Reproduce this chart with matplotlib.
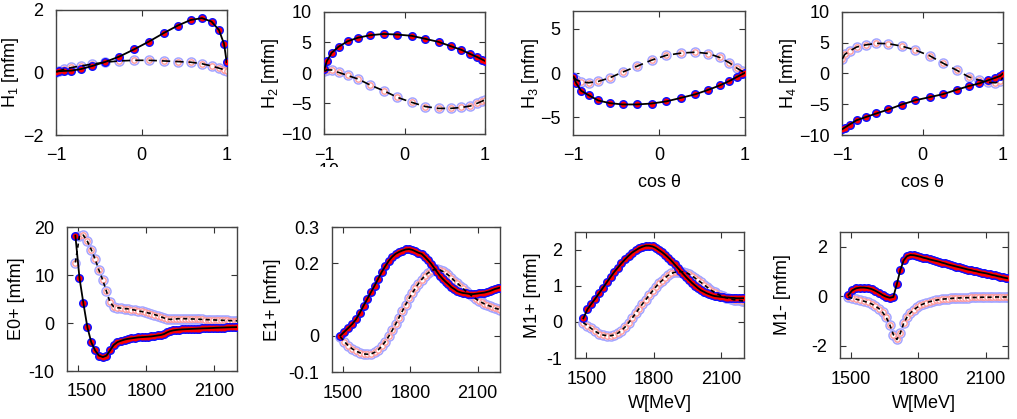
import numpy as np
import matplotlib.pyplot as plt
from matplotlib.transforms import Bbox, TransformedBbox, ScaledTranslation

plt.rcParams['font.family'] = ['Liberation Sans', 'DejaVu Sans']
plt.rcParams['mathtext.default'] = 'regular'
plt.rcParams['font.size'] = 13

# ---- top row: H1..H4 vs cos(theta)
cos_t = [-0.996, -0.966, -0.906, -0.819, -0.707, -0.574, -0.423, -0.259, -0.087,
         0.087, 0.259, 0.423, 0.574, 0.707, 0.819, 0.906, 0.966, 0.996]

h1_a = [0.03, 0.04, 0.05, 0.06, 0.11, 0.21, 0.34, 0.51, 0.74, 0.99, 1.26, 1.5, 1.68, 1.74, 1.63, 1.36, 0.91, 0.33]
h1_b = [0.02, 0.05, 0.1, 0.16, 0.21, 0.27, 0.33, 0.37, 0.39, 0.39, 0.37, 0.35, 0.33, 0.28, 0.21, 0.14, 0.09, 0.04]

h2_a = [0.6, 1.9, 3.3, 4.3, 5.2, 5.8, 6.2, 6.4, 6.3, 6.1, 5.6, 5.1, 4.4, 3.8, 3.1, 2.6, 2.2, 2.0]
h2_b = [0.3, 0.5, 0.5, 0.1, -0.4, -1.0, -2.0, -2.9, -4.0, -4.8, -5.5, -5.8, -5.8, -5.65, -5.4, -4.95, -4.6, -4.4]

h3_a = [-0.4, -1.1, -2.0, -2.5, -3.1, -3.4, -3.55, -3.55, -3.45, -3.2, -2.8, -2.4, -1.9, -1.4, -0.9, -0.45, -0.15, 0.0]
h3_b = [-0.4, -0.75, -1.0, -1.1, -0.95, -0.55, 0.1, 0.75, 1.45, 2.0, 2.25, 2.35, 2.2, 1.75, 1.15, 0.55, 0.2, 0.05]

h4_a = [-9.05, -8.8, -8.3, -7.6, -7.1, -6.5, -5.85, -5.05, -4.35, -3.85, -3.35, -2.65, -2.05, -1.6, -1.1, -0.7, -0.4, -0.05]
h4_b = [2.35, 3.1, 3.65, 4.3, 4.65, 4.9, 4.85, 4.45, 3.8, 2.9, 1.65, 0.55, -0.55, -1.1, -1.45, -1.5, -1.3, -0.65]

# ---- bottom row: multipoles vs W
w = [1487, 1505, 1522, 1540, 1557, 1574, 1591, 1608, 1624, 1640, 1656, 1672, 1688, 1704,
     1719, 1734, 1749, 1764, 1779, 1794, 1808, 1822, 1836, 1850, 1864, 1878, 1892, 1905,
     1918, 1931, 1944, 1957, 1970, 1983, 1996, 2009, 2022, 2034, 2046, 2058, 2070, 2082,
     2094, 2106, 2118, 2130, 2142, 2154, 2166, 2178, 2190, 2200]

e0_a = [18.2, 9.4, 4.2, -0.9, -4.0, -5.7, -6.8, -7.1, -6.8, -5.7, -4.6, -4.0, -3.7, -3.45,
        -3.3, -3.2, -3.1, -3.0, -2.95, -2.9, -2.85, -2.8, -2.7, -2.6, -2.5, -2.3, -1.95, -1.7,
        -1.55, -1.45, -1.38, -1.33, -1.3, -1.27, -1.24, -1.21, -1.18, -1.15, -1.12, -1.1, -1.08, -1.05,
        -1.03, -1.0, -0.98, -0.96, -0.94, -0.92, -0.9, -0.88, -0.87, -0.85]
e0_b = [12.6, 18.1, 18.3, 17.0, 15.3, 13.3, 11.0, 8.9, 6.6, 4.3, 3.4, 3.2, 3.1, 3.0,
        2.95, 2.8, 2.7, 2.5, 2.4, 2.25, 2.1, 1.95, 1.75, 1.55, 1.3, 1.05, 0.85, 0.75,
        0.8, 0.85, 0.9, 0.9, 0.9, 0.88, 0.85, 0.83, 0.8, 0.78, 0.75, 0.72, 0.7, 0.67,
        0.65, 0.62, 0.6, 0.58, 0.55, 0.53, 0.5, 0.48, 0.46, 0.45]

e1_a = [0.0, 0.011, 0.021, 0.032, 0.045, 0.063, 0.083, 0.102, 0.12, 0.138, 0.157, 0.176, 0.192, 0.207,
        0.218, 0.226, 0.231, 0.235, 0.238, 0.239, 0.237, 0.233, 0.229, 0.226, 0.218, 0.209, 0.199, 0.188,
        0.177, 0.166, 0.157, 0.149, 0.142, 0.134, 0.129, 0.123, 0.12, 0.118, 0.117, 0.116, 0.115, 0.115,
        0.116, 0.117, 0.118, 0.119, 0.121, 0.123, 0.126, 0.129, 0.131, 0.133]
e1_b = [-0.003, -0.016, -0.027, -0.036, -0.042, -0.047, -0.05, -0.051, -0.05, -0.046, -0.039, -0.029, -0.016, -0.001,
        0.015, 0.032, 0.05, 0.068, 0.086, 0.103, 0.117, 0.131, 0.144, 0.155, 0.165, 0.173, 0.179, 0.182,
        0.183, 0.181, 0.178, 0.173, 0.167, 0.16, 0.152, 0.145, 0.138, 0.131, 0.124, 0.118, 0.112, 0.106,
        0.101, 0.096, 0.092, 0.088, 0.085, 0.082, 0.079, 0.076, 0.074, 0.072]

m1p_a = [0.1, 0.35, 0.5, 0.65, 0.8, 0.95, 1.1, 1.25, 1.39, 1.51, 1.63, 1.74, 1.84, 1.93,
         1.99, 2.05, 2.09, 2.12, 2.12, 2.1, 2.06, 2.0, 1.94, 1.87, 1.79, 1.7, 1.6, 1.51,
         1.42, 1.33, 1.24, 1.16, 1.08, 1.01, 0.94, 0.88, 0.84, 0.8, 0.77, 0.74, 0.72, 0.71,
         0.7, 0.69, 0.68, 0.68, 0.67, 0.67, 0.66, 0.66, 0.66, 0.66]
m1p_b = [-0.02, -0.1, -0.18, -0.26, -0.32, -0.36, -0.38, -0.38, -0.36, -0.31, -0.24, -0.14, -0.02, 0.11,
         0.24, 0.37, 0.5, 0.62, 0.74, 0.86, 0.97, 1.07, 1.15, 1.23, 1.3, 1.35, 1.38, 1.4,
         1.4, 1.39, 1.37, 1.33, 1.28, 1.22, 1.16, 1.1, 1.04, 0.98, 0.92, 0.87, 0.82, 0.78,
         0.74, 0.71, 0.68, 0.66, 0.64, 0.62, 0.61, 0.6, 0.59, 0.58]

m1m_a = [0.05, 0.24, 0.32, 0.35, 0.35, 0.33, 0.29, 0.22, 0.14, 0.05, -0.02, -0.06, -0.03, 0.5,
         1.05, 1.45, 1.62, 1.67, 1.66, 1.63, 1.6, 1.56, 1.53, 1.49, 1.46, 1.43, 1.4, 1.36,
         1.33, 1.29, 1.26, 1.23, 1.2, 1.17, 1.14, 1.11, 1.08, 1.06, 1.03, 1.01, 0.98, 0.96,
         0.94, 0.92, 0.89, 0.86, 0.84, 0.81, 0.79, 0.76, 0.74, 0.72]
m1m_b = [-0.03, -0.08, -0.12, -0.16, -0.2, -0.25, -0.31, -0.4, -0.5, -0.65, -0.85, -1.15, -1.55, -1.75,
         -1.5, -1.1, -0.85, -0.68, -0.55, -0.45, -0.37, -0.31, -0.26, -0.22, -0.19, -0.16, -0.14, -0.12,
         -0.11, -0.1, -0.09, -0.08, -0.07, -0.07, -0.06, -0.06, -0.06, -0.05, -0.05, -0.05, -0.05, -0.04,
         -0.04, -0.04, -0.04, -0.04, -0.03, -0.03, -0.03, -0.03, -0.03, -0.03]

W, H = 1017, 419
fig = plt.figure(figsize=(W / 100, H / 100), dpi=100)


def make_ax(l, r, t, b):
    return fig.add_axes([l / W, 1 - b / H, (r - l) / W, (b - t) / H])


def draw(ax, x, ya, yb, ms, dash):
    ax.plot(x, yb, 'o', ms=ms, mfc='white', mec='#a4a4ff', mew=1.1, zorder=2)
    ax.plot(x, yb, 'o', ms=ms - 2.6, mfc='white', mec='#ff9a9a', mew=1.0, zorder=2)
    ax.plot(x, ya, 'o', ms=ms, mfc='#1010ff', mec='#1010ff', mew=0, zorder=3)
    ax.plot(x, ya, 'o', ms=ms - 2.2, mfc='#ff0000', mec='#ff0000', mew=0, zorder=3)
    ax.plot(x, yb, color='black', lw=1.2, ls=dash, zorder=4)
    ax.plot(x, ya, color='black', lw=1.3, zorder=4)


def style(ax, xlim, ylim, yticks, xticks):
    ax.set_xlim(*xlim)
    ax.set_ylim(*ylim)
    ax.set_xticks(xticks)
    ax.set_yticks(yticks)
    ax.tick_params(direction='in', top=True, right=True, length=4, width=0.8,
                   color='#333333', labelsize=13, pad=9)
    for s in ax.spines.values():
        s.set_color('#444444')
        s.set_linewidth(1.0)


def place_ylabel(ax, text, px, box):
    # px is the right edge of the rotated label
    l, r, t, b = box
    ax.set_ylabel(text, fontsize=13)
    ax.yaxis.set_label_coords((px - l) / (r - l), 0.5)


def place_xlabel(ax, text, py, box):
    # py is the top edge of the label
    l, r, t, b = box
    ax.set_xlabel(text, fontsize=13)
    ax.xaxis.set_label_coords(0.5, (b - py) / (b - t))


# top row
top_boxes = [(56, 227, 10, 135), (324, 485, 12, 134), (573, 745, 11, 135), (842, 1003, 12, 135)]
top_data = [(h1_a, h1_b, (-2, 2), [-2, 0, 2], 'H$_1$ [mfm]', 21),
            (h2_a, h2_b, (-10, 10), [-10, -5, 0, 5, 10], 'H$_2$ [mfm]', 281),
            (h3_a, h3_b, (-7, 7), [-5, 0, 5], 'H$_3$ [mfm]', 541),
            (h4_a, h4_b, (-10, 10), [-10, -5, 0, 5, 10], 'H$_4$ [mfm]', 799)]
for i, (box, (ya, yb, ylim, yt, lab, lx)) in enumerate(zip(top_boxes, top_data)):
    ax = make_ax(*box)
    draw(ax, cos_t, ya, yb, 6.5, (0, (5, 3)))
    style(ax, (-1, 1), ylim, yt, [-1, 0, 1])
    place_ylabel(ax, lab, lx, box)
    if i >= 2:
        place_xlabel(ax, 'cos θ', 174, box)

# clipped leftover tick label under the H2 panel
t = fig.text(326 / W, 1 - 163 / H, '-10', ha='center', va='top', fontsize=13)
t.set_clip_box(TransformedBbox(Bbox([[300 / W, 1 - 167 / H], [350 / W, 1 - 158 / H]]), fig.transFigure))
t.set_clip_on(True)

# bottom row
bot_boxes = [(67, 237, 227, 371), (332, 500, 227, 372), (575, 744, 232, 358), (840, 1008, 232, 358)]
bot_data = [(e0_a, e0_b, (-10, 20), [-10, 0, 10, 20], 'E0+ [mfm]', 25),
            (e1_a, e1_b, (-0.1, 0.3), [-0.1, 0, 0.2, 0.3], 'E1+ [mfm]', 281),
            (m1p_a, m1p_b, (-1, 2.5), [-1, 0, 1, 2], 'M1+ [mfm]', 541),
            (m1m_a, m1m_b, (-2.5, 2.6), [-2, 0, 2], 'M1- [mfm]', 791)]
for i, (box, (ya, yb, ylim, yt, lab, lx)) in enumerate(zip(bot_boxes, bot_data)):
    ax = make_ax(*box)
    draw(ax, w, ya, yb, 6.5, (0, (2.5, 2)))
    style(ax, (1450, 2200), ylim, yt, [1500, 1800, 2100])
    ax.set_yticklabels(['-0.1', '0', '0.2', '0.3'] if i == 1 else [str(v) for v in yt])
    place_ylabel(ax, lab, lx, box)
    if i >= 2:
        place_xlabel(ax, 'W[MeV]', 395, box)
    if i == 0:
        # first W label sits a little to the right of its tick in the reference
        lbl = ax.get_xticklabels()[0]
        lbl.set_transform(lbl.get_transform() + ScaledTranslation(8 / 100, 0, fig.dpi_scale_trans))

fig.savefig('out.png', dpi=100)
